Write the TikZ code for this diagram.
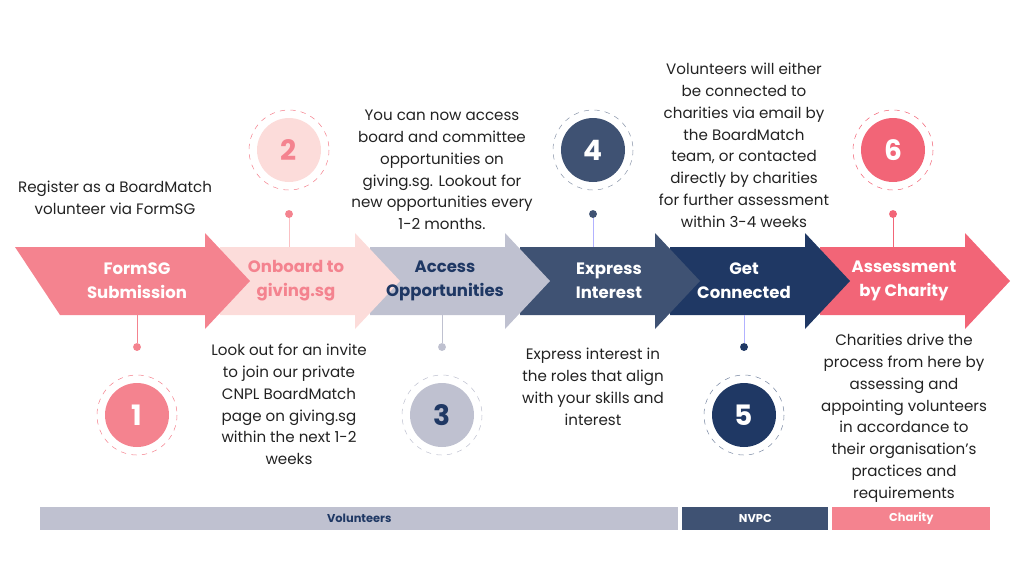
\documentclass[tikz,border=0pt]{standalone}
\usepackage{fontspec}
\setmainfont{Poppins}
\usetikzlibrary{positioning}
\definecolor{rosea}{HTML}{F4838F}
\definecolor{roseb}{HTML}{FCDCDA}
\definecolor{greyc}{HTML}{BFC1D0}
\definecolor{slate}{HTML}{3F5273}
\definecolor{navy}{HTML}{1F3864}
\definecolor{coral}{HTML}{F26577}
\definecolor{ink}{HTML}{222222}
\tikzset{
  stage/.style={font=\fontsize{9.4}{13.6}\selectfont\bfseries, align=center},
  note/.style={font=\fontsize{8.6}{12.4}\selectfont, text=ink, align=center},
  num/.style={circle, minimum size=1.28cm, inner sep=0pt, font=\fontsize{16}{16}\selectfont\bfseries},
  ring/.style={dashed, line width=0.3pt},
  dot/.style={circle, minimum size=4.5pt, inner sep=0pt},
  bar/.style={minimum height=0.46cm, inner sep=0pt, font=\fontsize{6.5}{7}\selectfont\bfseries}
}
\newcommand\stepshape[3]{% left x, body end x, colour
  \fill[#3] (#1,247) -- (#2,247) -- (#2,233) -- ({#2+45},281) -- (#2,329) -- (#2,315) -- (#1,315) -- cycle;}
\begin{document}
\begin{tikzpicture}[x=0.02cm, y=-0.02cm]
\useasboundingbox (0,0) rectangle (1024,576);
% arrows, last first
\stepshape{820}{965}{coral}
\stepshape{670}{805}{navy}
\stepshape{520}{655}{slate}
\stepshape{370}{505}{greyc}
\stepshape{220}{355}{roseb}
\fill[rosea] (15,247) -- (205,247) -- (205,233) -- (250,281) -- (205,329) -- (205,315) -- (60,315) -- cycle;
% stage titles
\node[stage, text=white] (s1) at (137,281) {FormSG\\Submission};
\node[stage, text=rosea] (s2) at (296,281) {Onboard to\\giving.sg};
\node[stage, text=navy] (s3) at (445,281) {Access\\Opportunities};
\node[stage, text=white] (s4) at (609,281) {Express\\Interest};
\node[stage, text=white] (s5) at (744,281) {Get\\Connected};
\node[stage, text=white] (s6) at (904,281) {Assessment\\by Charity};
% number circles
\node[num, fill=rosea, text=white] (n1) at (137,415) {1};
\node[num, fill=roseb, text=rosea] (n2) at (289,150) {2};
\node[num, fill=greyc, text=navy] (n3) at (442,415) {3};
\node[num, fill=slate, text=white] (n4) at (593,150) {4};
\node[num, fill=navy, text=white] (n5) at (744,415) {5};
\node[num, fill=coral, text=white] (n6) at (893,150) {6};
\draw[ring, rosea] (n1) circle (40);
\draw[ring, rosea] (n2) circle (40);
\draw[ring, greyc] (n3) circle (40);
\draw[ring, slate!60] (n4) circle (40);
\draw[ring, navy!60] (n5) circle (40);
\draw[ring, coral] (n6) circle (40);
% connectors
\node[dot, fill=rosea] (d1) at (137,347) {};
\node[dot, fill=rosea] (d2) at (289,214) {};
\node[dot, fill=greyc] (d3) at (442,347) {};
\node[dot, fill=slate] (d4) at (593,214) {};
\node[dot, fill=navy] (d5) at (744,347) {};
\node[dot, fill=coral] (d6) at (893,214) {};
\coordinate (a1) at (137,315);
\coordinate (a2) at (289,247);
\coordinate (a3) at (442,315);
\coordinate (a4) at (593,247);
\coordinate (a5) at (744,315);
\coordinate (a6) at (893,247);
\draw[rosea] (d1) -- (a1);
\draw[roseb!70!rosea] (d2) -- (a2);
\draw[greyc] (d3) -- (a3);
\draw[blue!30] (d4) -- (a4);
\draw[blue!30] (d5) -- (a5);
\draw[coral] (d6) -- (a6);
% descriptions
\node[note, anchor=north] (t1) at (115,175) {Register as a BoardMatch\\volunteer via FormSG};
\node[note, anchor=north] (t2) at (289,338) {Look out for an invite\\to join our private\\CNPL BoardMatch\\page on giving.sg\\within the next 1-2\\weeks};
\node[note, anchor=north] (t3) at (442,104) {You can now access\\board and committee\\opportunities on\\giving.sg. Lookout for\\new opportunities every\\1-2 months.};
\node[note, anchor=north] (t4) at (593,342) {Express interest in\\the roles that align\\with your skills and\\interest};
\node[note, anchor=north] (t5) at (744,57) {Volunteers will either\\be connected to\\charities via email by\\the BoardMatch\\team, or contacted\\directly by charities\\for further assessment\\within 3-4 weeks};
\node[note, anchor=north] (t6) at (904,328) {Charities drive the\\process from here by\\assessing and\\appointing volunteers\\in accordance to\\their organisation’s\\practices and\\requirements};
% who does what
\node[bar, fill=greyc, text=navy, minimum width=12.76cm, anchor=west] (b1) at (40,518) {Volunteers};
\node[bar, fill=slate, text=white, minimum width=2.92cm, anchor=west] (b2) at (682,518) {NVPC};
\node[bar, fill=rosea, text=white, minimum width=3.16cm, anchor=west] (b3) at (832,518) {Charity};
\end{tikzpicture}
\end{document}
